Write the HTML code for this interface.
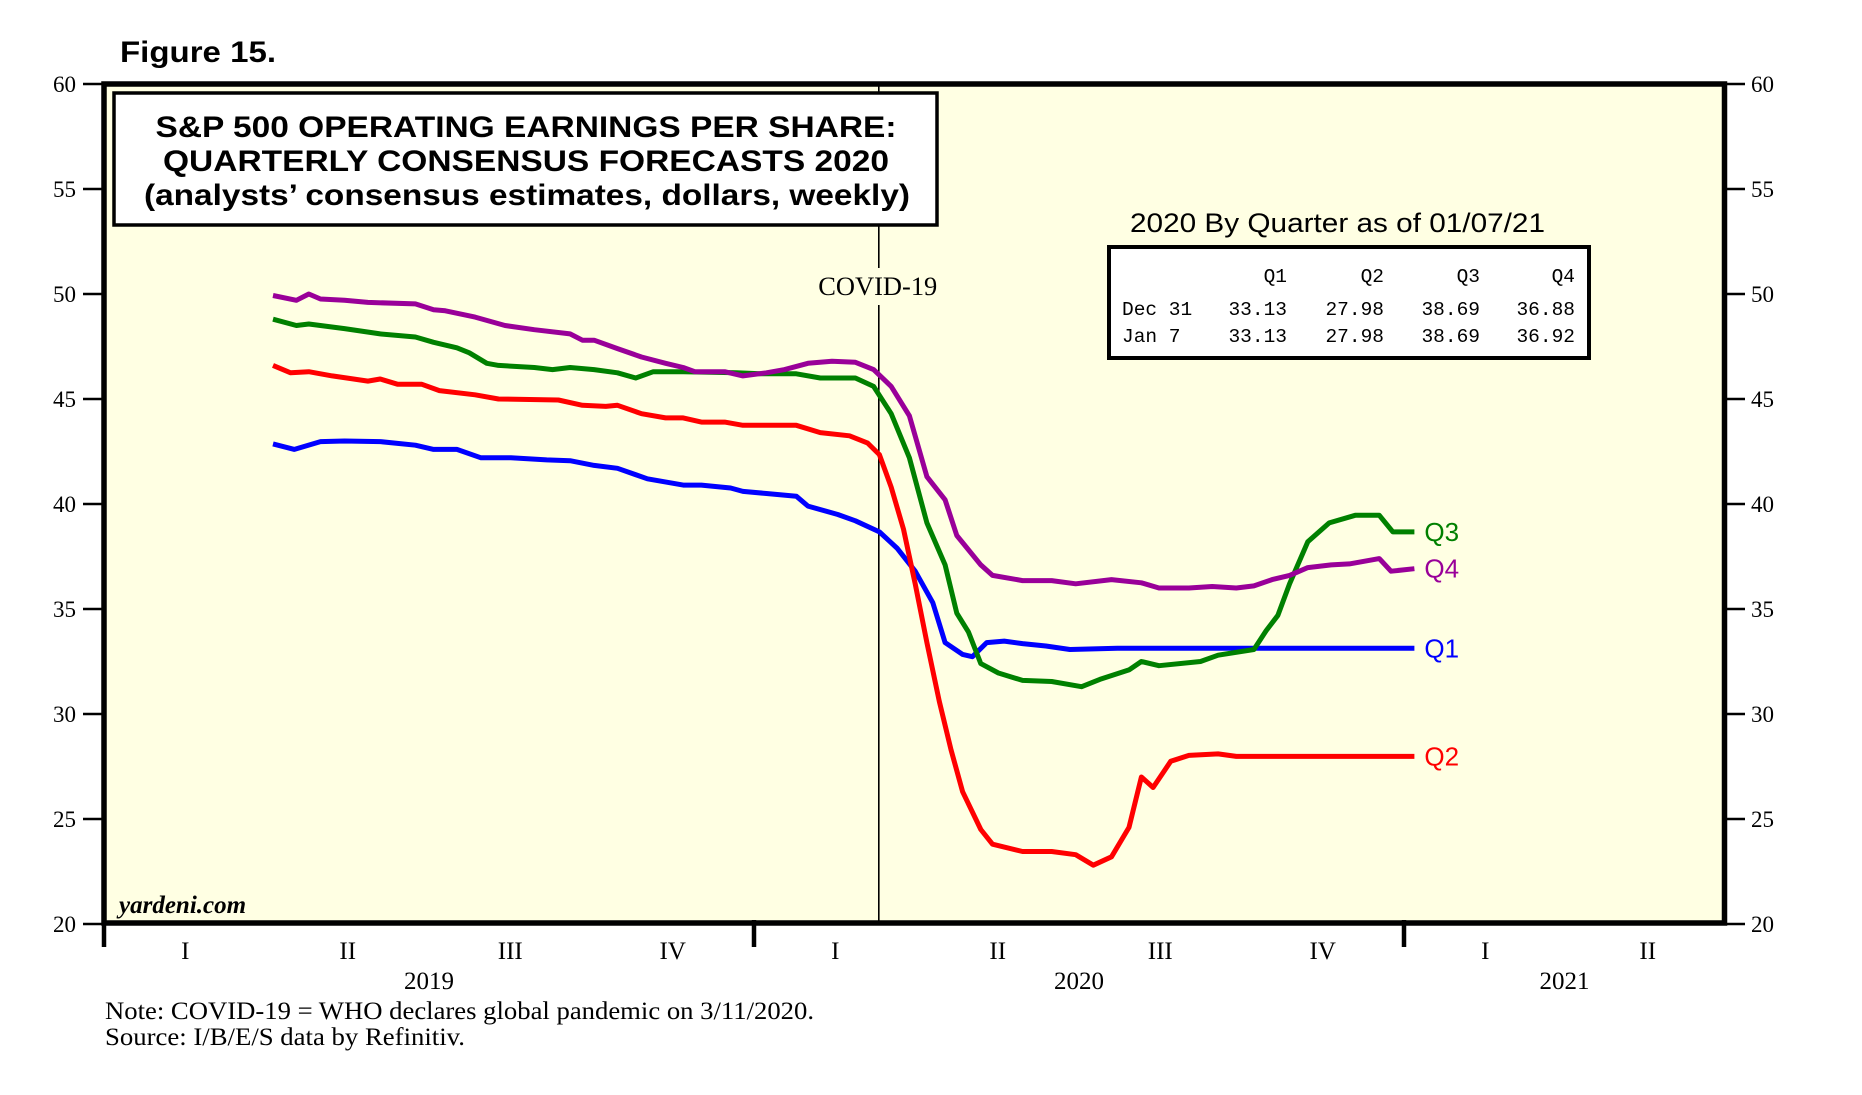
<!DOCTYPE html>
<html><head><meta charset="utf-8"><style>
html,body{margin:0;padding:0;background:#fff;}
svg{display:block;}
</style></head><body>
<svg id="chart" width="1862" height="1095" xmlns="http://www.w3.org/2000/svg">
<rect x="104" y="84" width="1620" height="839" fill="#ffffe3"/>
<g id="grid"></g>
<g id="series"></g>
<rect x="104" y="84" width="1620.5" height="839" fill="none" stroke="#000" stroke-width="5.5"/>
<text x="120" y="62" font-family="Liberation Sans, sans-serif" font-weight="bold" font-size="30" textLength="156" lengthAdjust="spacingAndGlyphs">Figure 15.</text>
<rect x="114" y="93" width="823" height="132" fill="#fff" stroke="#000" stroke-width="3.5"/>
<text x="526" y="137" text-anchor="middle" font-family="Liberation Sans, sans-serif" font-weight="bold" font-size="30" textLength="741" lengthAdjust="spacingAndGlyphs">S&amp;P 500 OPERATING EARNINGS PER SHARE:</text>
<text x="526" y="171" text-anchor="middle" font-family="Liberation Sans, sans-serif" font-weight="bold" font-size="30" textLength="726" lengthAdjust="spacingAndGlyphs">QUARTERLY CONSENSUS FORECASTS 2020</text>
<text x="527" y="205" text-anchor="middle" font-family="Liberation Sans, sans-serif" font-weight="bold" font-size="30" textLength="766" lengthAdjust="spacingAndGlyphs">(analysts’ consensus estimates, dollars, weekly)</text>
<text x="1130" y="232" font-family="Liberation Sans, sans-serif" font-size="27" textLength="415" lengthAdjust="spacingAndGlyphs">2020 By Quarter as of 01/07/21</text>
<rect x="1109" y="247" width="480" height="111" fill="#fff" stroke="#000" stroke-width="4"/>
<g font-family="Liberation Mono, monospace" font-size="19.5" fill="#000">
<text x="1287" y="282" text-anchor="end">Q1</text>
<text x="1384" y="282" text-anchor="end">Q2</text>
<text x="1480" y="282" text-anchor="end">Q3</text>
<text x="1575" y="282" text-anchor="end">Q4</text>
<text x="1122" y="315">Dec 31</text>
<text x="1287" y="315" text-anchor="end">33.13</text>
<text x="1384" y="315" text-anchor="end">27.98</text>
<text x="1480" y="315" text-anchor="end">38.69</text>
<text x="1575" y="315" text-anchor="end">36.88</text>
<text x="1122" y="342">Jan  7</text>
<text x="1287" y="342" text-anchor="end">33.13</text>
<text x="1384" y="342" text-anchor="end">27.98</text>
<text x="1480" y="342" text-anchor="end">38.69</text>
<text x="1575" y="342" text-anchor="end">36.92</text>
</g>
<text x="119" y="913" font-family="Liberation Serif, serif" font-style="italic" font-weight="bold" font-size="25">yardeni.com</text>
<text x="105" y="1019" font-family="Liberation Serif, serif" font-size="25" textLength="709" lengthAdjust="spacingAndGlyphs">Note: COVID-19 = WHO declares global pandemic on 3/11/2020.</text>
<text x="105" y="1045" font-family="Liberation Serif, serif" font-size="25" textLength="360" lengthAdjust="spacingAndGlyphs">Source: I/B/E/S data by Refinitiv.</text>
</svg>
<script>
const yTicks = [20,25,30,35,40,45,50,55,60];
const years = [2019, 2020, 2021];
const quarterLabels = ['I','II','III','IV'];
const covidDate = 2020.192;
const seriesNames = ['Q1','Q2','Q3','Q4'];
const seriesColors = ['#0000ff','#ff0000','#008000','#990099'];
const q1Dates = [2019.260,2019.293,2019.333,2019.370,2019.425,2019.479,2019.507,2019.543,2019.580,2019.626,2019.681,2019.717,2019.754,2019.790,2019.836,2019.891,2019.919,2019.964,2019.983,2020.019,2020.065,2020.083,2020.129,2020.156,2020.193,2020.220,2020.248,2020.275,2020.294,2020.321,2020.336,2020.358,2020.385,2020.413,2020.449,2020.486,2020.559,2021.016];
const q1Values = [42.86,42.6,42.97,43.0,42.97,42.8,42.6,42.6,42.2,42.2,42.1,42.06,41.84,41.7,41.2,40.9,40.9,40.76,40.6,40.5,40.37,39.9,39.5,39.2,38.67,37.9,36.8,35.3,33.4,32.84,32.73,33.4,33.47,33.35,33.24,33.07,33.13,33.13];
const q2Dates = [2019.260,2019.287,2019.315,2019.351,2019.406,2019.425,2019.452,2019.489,2019.516,2019.571,2019.607,2019.699,2019.736,2019.772,2019.790,2019.827,2019.864,2019.891,2019.919,2019.955,2019.983,2020.065,2020.102,2020.147,2020.175,2020.193,2020.211,2020.230,2020.248,2020.266,2020.285,2020.303,2020.321,2020.349,2020.367,2020.413,2020.458,2020.495,2020.522,2020.550,2020.577,2020.596,2020.614,2020.641,2020.669,2020.714,2020.742,2021.016];
const q2Values = [46.6,46.25,46.3,46.1,45.85,45.95,45.7,45.7,45.4,45.2,45.0,44.95,44.7,44.65,44.7,44.3,44.1,44.1,43.9,43.9,43.75,43.75,43.4,43.25,42.9,42.35,40.8,38.8,36.2,33.4,30.6,28.3,26.3,24.5,23.8,23.45,23.45,23.3,22.8,23.2,24.6,27.0,26.5,27.75,28.03,28.1,27.98,27.98];
const q3Dates = [2019.260,2019.296,2019.315,2019.370,2019.425,2019.479,2019.507,2019.543,2019.562,2019.589,2019.607,2019.662,2019.690,2019.717,2019.754,2019.790,2019.818,2019.845,2019.891,2019.973,2020.010,2020.065,2020.102,2020.156,2020.184,2020.211,2020.239,2020.266,2020.294,2020.312,2020.330,2020.349,2020.376,2020.413,2020.458,2020.504,2020.532,2020.577,2020.596,2020.623,2020.687,2020.714,2020.769,2020.788,2020.806,2020.824,2020.852,2020.885,2020.925,2020.962,2020.983,2021.016];
const q3Values = [48.8,48.5,48.57,48.35,48.1,47.95,47.7,47.44,47.2,46.7,46.6,46.5,46.4,46.5,46.4,46.25,46.0,46.3,46.3,46.25,46.2,46.2,46.0,46.0,45.6,44.3,42.2,39.1,37.1,34.8,33.9,32.4,31.95,31.6,31.55,31.3,31.65,32.1,32.5,32.3,32.5,32.8,33.07,33.97,34.7,36.2,38.2,39.1,39.46,39.46,38.67,38.67];
const q4Dates = [2019.260,2019.296,2019.315,2019.333,2019.370,2019.406,2019.479,2019.507,2019.525,2019.571,2019.617,2019.662,2019.717,2019.736,2019.754,2019.790,2019.827,2019.864,2019.891,2019.909,2019.955,2019.983,2020.019,2020.047,2020.083,2020.120,2020.156,2020.184,2020.211,2020.239,2020.266,2020.294,2020.312,2020.349,2020.367,2020.413,2020.458,2020.495,2020.550,2020.596,2020.623,2020.669,2020.705,2020.742,2020.769,2020.797,2020.824,2020.852,2020.888,2020.916,2020.962,2020.980,2021.016];
const q4Values = [49.93,49.7,50.0,49.76,49.7,49.6,49.53,49.25,49.2,48.9,48.5,48.3,48.1,47.8,47.8,47.4,47.0,46.7,46.5,46.3,46.3,46.1,46.25,46.4,46.7,46.8,46.75,46.4,45.6,44.2,41.3,40.2,38.5,37.1,36.6,36.35,36.35,36.2,36.4,36.25,36.0,36.0,36.07,36.0,36.1,36.4,36.6,36.97,37.1,37.15,37.4,36.8,36.92];

const NS='http://www.w3.org/2000/svg';
const X0=104, PXY=650, Y0=924, PXV=21;
function xS(t){return X0+(t-2019)*PXY;}
function yS(v){return Y0-(v-20)*PXV;}
function mk(tag,attrs,parent,text){const e=document.createElementNS(NS,tag);for(const k in attrs)e.setAttribute(k,attrs[k]);if(text!==undefined)e.textContent=text;parent.appendChild(e);return e;}
const grid=document.getElementById('grid');
const ser=document.getElementById('series');

yTicks.forEach(v=>{
  const y=yS(v);
  const t1=mk('line',{x1:83,x2:104,y1:y,y2:y,stroke:'#000','stroke-width':2.5},grid);
  
  
  const t2=mk('line',{x1:1724,x2:1745,y1:y,y2:y,stroke:'#000','stroke-width':2.5},grid);
  
  
  const l1=mk('text',{x:76,y:y+8,'text-anchor':'end','font-family':'Liberation Serif, serif','font-size':23},grid,String(v));
  
  
  const l2=mk('text',{x:1751,y:y+8,'font-family':'Liberation Serif, serif','font-size':23},grid,String(v));
  
  
});
years.forEach((yr,i)=>{
  const x=xS(yr);
  const tk=mk('line',{x1:x,x2:x,y1:920,y2:947,stroke:'#000','stroke-width':4.5},grid);
  
  
  const nq = yr===2021?2:4;
  for(let q=0;q<nq;q++){
    const ql=mk('text',{x:xS(yr+(q+0.5)/4),y:959,'text-anchor':'middle','font-family':'Liberation Serif, serif','font-size':25},grid,quarterLabels[q]);
    
    
  }
  const cx = yr===2021? xS(yr+0.247) : xS(yr+0.5);
  const yl=mk('text',{x:cx,y:989,'text-anchor':'middle','font-family':'Liberation Serif, serif','font-size':25},grid,String(yr));
  
  
});
const cxp=xS(covidDate);
const cl1=mk('line',{x1:cxp,x2:cxp,y1:86,y2:268,stroke:'#000','stroke-width':1.6},grid);


const cl2=mk('line',{x1:cxp,x2:cxp,y1:305,y2:921,stroke:'#000','stroke-width':1.6},grid);


const ct=mk('text',{x:cxp-1,y:295,'text-anchor':'middle','font-family':'Liberation Serif, serif','font-size':26,textLength:119,lengthAdjust:'spacingAndGlyphs'},grid,'COVID-19');



const allDates=[q1Dates,q2Dates,q3Dates,q4Dates];
const allVals=[q1Values,q2Values,q3Values,q4Values];
allDates.forEach((ds,i)=>{
  const vs=allVals[i];
  const pts=ds.map((d,j)=>xS(d).toFixed(1)+','+yS(vs[j]).toFixed(1)).join(' ');
  const pl=mk('polyline',{points:pts,fill:'none',stroke:seriesColors[i],'stroke-width':5,'stroke-linejoin':'round'},ser);
  
  
  const lx=xS(ds[ds.length-1])+10, ly=yS(vs[vs.length-1])+9;
  const lb=mk('text',{x:lx,y:ly,fill:seriesColors[i],'font-family':'Liberation Sans, sans-serif','font-size':26},ser,seriesNames[i]);
  
  
});
</script>
</body></html>
